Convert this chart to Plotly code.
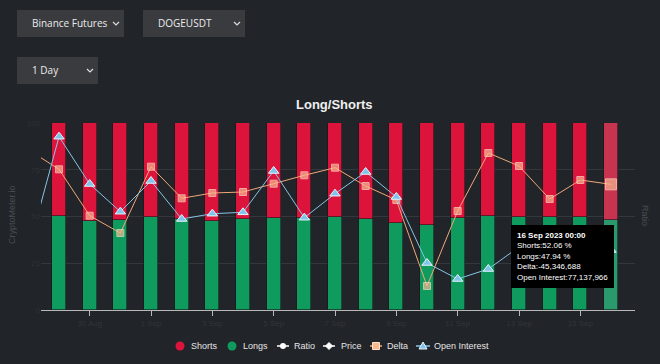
import plotly.graph_objects as go
import pandas as pd

# ---------------- data ----------------
bar_dates = pd.date_range("2023-08-29", "2023-09-16", freq="D")
longs = [50.2, 47.6, 48.1, 49.9, 48.5, 47.4, 48.5, 49.0, 49.4, 49.9,
         48.7, 46.5, 45.2, 49.3, 50.3, 50.0, 50.0, 49.9, 47.94]
shorts = [round(100 - v, 2) for v in longs]

line_dates = pd.date_range("2023-08-28", "2023-09-16", freq="D")
delta = [-10.7e6, -30.3e6, -76.7e6, -94.0e6, -27.7e6, -59.3e6, -54.0e6, -53.0e6,
         -44.7e6, -36.3e6, -28.7e6, -47.0e6, -61.0e6, -147.0e6, -72.0e6, -14.0e6,
         -27.0e6, -60.0e6, -41.0e6, -45346688]
open_interest = [77.17e6, 88.47e6, 83.74e6, 80.97e6, 84.04e6, 80.24e6, 80.77e6,
                 80.91e6, 85.04e6, 80.37e6, 82.77e6, 84.94e6, 82.44e6, 75.84e6,
                 74.24e6, 75.24e6, 77.44e6, 77.84e6, 77.54e6, 77137966]

exchanges = ["Binance Futures"]
symbols = ["DOGEUSDT"]
periods = ["1 Day"]
left_ticks = [0, 25, 50, 75, 100]
legend_names = ["Shorts", "Longs", "Ratio", "Price", "Delta", "Open Interest"]

# ---------------- style ----------------
BG = "#212428"
RED = "#dc143c"
GREEN = "#0f9a5e"
RED_HL = "#c8334f"
GREEN_HL = "#2a9a6c"
DELTA_C = "#f0a878"
DELTA_FILL = "#f6b88f"
OI_C = "#86c5e8"
OI_FILL = "#7fc4ea"
W, H = 660, 364

def px_x(p):
    return p / W

def px_y(p):
    return (H - p) / H

n = len(bar_dates)
red_cols = [RED] * (n - 1) + [RED_HL]
green_cols = [GREEN] * (n - 1) + [GREEN_HL]
bar_width = 0.46 * 86400000

fig = go.Figure()
fig.add_trace(go.Bar(x=bar_dates, y=longs, name="Longs",
                     marker=dict(color=green_cols, line=dict(color="#15171a", width=0.6)),
                     width=bar_width))
fig.add_trace(go.Bar(x=bar_dates, y=shorts, name="Shorts",
                     marker=dict(color=red_cols, line=dict(color="#15171a", width=0.6)),
                     width=bar_width))

delta_sizes = [7] * (len(line_dates) - 1) + [11]
fig.add_trace(go.Scatter(x=line_dates, y=delta, yaxis="y2", mode="lines+markers", name="Delta",
                         line=dict(color=DELTA_C, width=1),
                         marker=dict(symbol="square", size=delta_sizes, color=DELTA_FILL,
                                     line=dict(color="#ffe2cc", width=1))))
fig.add_trace(go.Scatter(x=line_dates, y=open_interest, yaxis="y3", mode="lines+markers",
                         name="Open Interest", line=dict(color=OI_C, width=1),
                         marker=dict(symbol="triangle-up", size=9, color=OI_FILL,
                                     line=dict(color="#e8f4fb", width=1))))

start = pd.Timestamp("2023-08-28 09:54")
end = pd.Timestamp("2023-09-16 18:47")

fig.update_layout(
    width=W, height=H,
    margin=dict(l=0, r=0, t=0, b=0),
    paper_bgcolor=BG, plot_bgcolor=BG,
    barmode="stack",
    bargap=0,
    font=dict(family="Liberation Sans, Arial", color="#e6e6e6"),
    showlegend=False,
    xaxis=dict(domain=[px_x(41), px_x(635)], type="date", range=[start, end],
               tick0="2023-08-30", dtick=2 * 86400000, tickformat="%-d %b",
               showgrid=False, showline=True, linecolor="#b8b8b8", linewidth=1,
               ticks="outside", ticklen=5, tickcolor="#b8b8b8",
               tickfont=dict(size=8, color="#32353a"), automargin=False, fixedrange=True),
    yaxis=dict(domain=[px_y(310), px_y(123)], range=[0, 100], tickvals=left_ticks,
               showgrid=True, gridcolor="#34373c", gridwidth=1, zeroline=False,
               tickfont=dict(size=8, color="#2f3237"), automargin=False, showline=False),
    yaxis2=dict(overlaying="y", range=[-171e6, 16e6], visible=False),
    yaxis3=dict(overlaying="y", range=[71.14e6, 89.84e6], visible=False),
    hovermode=False,
)

def note(text, x, y, size, color, family="Liberation Sans, Arial", xanchor="center", angle=0):
    fig.add_annotation(text=text, xref="paper", yref="paper", x=px_x(x), y=px_y(y),
                       xanchor=xanchor, yanchor="middle", textangle=angle, showarrow=False,
                       font=dict(size=size, color=color, family=family))

# title and axis titles
note("<b>Long/Shorts</b>", 334, 104, 13, "#f0f0f0")
note("CryptoMeter.io", 12, 215, 9, "#4b4e54", angle=-90)
note("Ratio", 645, 215, 9, "#4b4e54", angle=90)

# dropdown controls
dropdowns = [
    (exchanges[0], 17, 124, 10, 37),
    (symbols[0], 143, 245, 10, 37),
    (periods[0], 17, 98, 57, 84),
]
for label, x0, x1, y0, y1 in dropdowns:
    fig.add_shape(type="rect", xref="paper", yref="paper", x0=px_x(x0), x1=px_x(x1),
                  y0=px_y(y1), y1=px_y(y0), fillcolor="#3a3b3e", line=dict(width=0), layer="above")
    note(label, x0 + 13, (y0 + y1) / 2, 10, "#ececec", family="Open Sans", xanchor="left")
    cx, cy = x1 - 8, (y0 + y1) / 2
    path = (f"M {px_x(cx - 3)},{px_y(cy - 1.5)} L {px_x(cx)},{px_y(cy + 1.5)} "
            f"L {px_x(cx + 3)},{px_y(cy - 1.5)}")
    fig.add_shape(type="path", xref="paper", yref="paper", path=path,
                  line=dict(color="#dddddd", width=1.2), layer="above")

# custom legend (symbol drawn with shapes, names as text)
LY = 346

def seg(xa, xb, color):
    fig.add_shape(type="line", xref="paper", yref="paper", x0=px_x(xa), x1=px_x(xb),
                  y0=px_y(LY), y1=px_y(LY), line=dict(color=color, width=1.5))

def poly(points, fill, line):
    d = "M " + " L ".join(f"{px_x(a)},{px_y(b)}" for a, b in points) + " Z"
    fig.add_shape(type="path", xref="paper", yref="paper", path=d, fillcolor=fill,
                  line=dict(color=line, width=1))

def circ(cx, r, fill):
    fig.add_shape(type="circle", xref="paper", yref="paper", x0=px_x(cx - r), x1=px_x(cx + r),
                  y0=px_y(LY + r), y1=px_y(LY - r), fillcolor=fill, line=dict(color=fill, width=0))

circ(180, 4.5, RED)
circ(232, 4.5, GREEN)
seg(277, 289, "#ffffff"); circ(283, 3, "#ffffff")
seg(323, 335, "#ffffff"); poly([(329, LY - 3.5), (332.5, LY), (329, LY + 3.5), (325.5, LY)], "#ffffff", "#ffffff")
seg(370, 382, DELTA_C); poly([(372.5, LY - 3.5), (379.5, LY - 3.5), (379.5, LY + 3.5), (372.5, LY + 3.5)], DELTA_FILL, "#ffe2cc")
seg(416, 430, OI_C); poly([(423, LY - 4), (427, LY + 3), (419, LY + 3)], OI_FILL, "#e8f4fb")

for name, tx in zip(legend_names, [189, 241, 292, 339, 385, 432]):
    note(name, tx, LY, 9, "#e6e6e6", xanchor="left")

# tooltip for hovered point
i = n - 1
tip = (f"<b>{bar_dates[i].strftime('%d %b %Y %H:%M')}</b><br>"
       f"Shorts:{shorts[i]:.2f} %<br>Longs:{longs[i]:.2f} %<br>"
       f"Delta:{delta[-1]:,.0f}<br>Open Interest:{open_interest[-1]:,.0f}")
fig.add_annotation(text=tip, xref="paper", yref="paper", x=px_x(511), y=px_y(225),
                   xanchor="left", yanchor="top", align="left", showarrow=False,
                   bgcolor="#000000", borderpad=5, bordercolor="#000000",
                   font=dict(size=8, color="#ffffff", family="Liberation Sans, Arial"))

fig.write_html("out.html", config={"displayModeBar": False},
               post_script="document.body.style.margin='0';document.body.style.padding='0';"
                           "document.body.style.background='" + BG + "';")
